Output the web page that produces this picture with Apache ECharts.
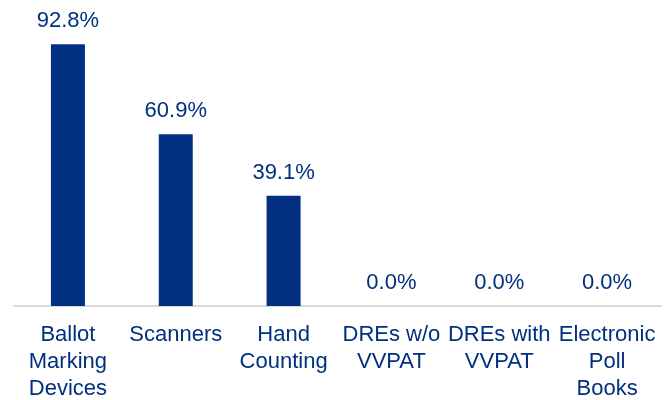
<!DOCTYPE html>
<html>
<head>
<meta charset="utf-8">
<script src="https://cdn.jsdelivr.net/npm/echarts@6/dist/echarts.min.js"></script>
<style>
  html, body { margin: 0; padding: 0; background: #fff; }
  #chart { width: 672px; height: 400px; }
</style>
</head>
<body>
<div id="chart"></div>
<script>
const categories = [
  'Ballot\nMarking\nDevices',
  'Scanners',
  'Hand\nCounting',
  'DREs w/o\nVVPAT',
  'DREs with\nVVPAT',
  'Electronic\nPoll\nBooks'
];
const shares = [92.8, 60.9, 39.1, 0.0, 0.0, 0.0];

const navy = '#00307F';
const font = '"Liberation Sans", Arial, sans-serif';

const chart = echarts.init(document.getElementById('chart'));

chart.setOption({
  animation: false,
  grid: { left: 14, right: 11, top: 24, bottom: 94, outerBoundsMode: 'none' },
  xAxis: {
    type: 'category',
    data: categories,
    axisLine: { lineStyle: { color: '#d9d9d9', width: 2 } },
    axisTick: { show: false },
    axisLabel: {
      interval: 0,
      margin: 15,
      color: navy,
      fontFamily: font,
      fontSize: 22,
      lineHeight: 27
    }
  },
  yAxis: {
    type: 'value',
    min: 0,
    max: 100,
    show: false,
    splitLine: { show: false }
  },
  series: [{
    type: 'bar',
    data: shares,
    barWidth: 34,
    itemStyle: { color: navy },
    label: {
      show: true,
      position: 'top',
      distance: 12,
      color: navy,
      fontFamily: font,
      fontSize: 22,
      formatter: p => p.value.toFixed(1) + '%'
    }
  }]
});
</script>
</body>
</html>
